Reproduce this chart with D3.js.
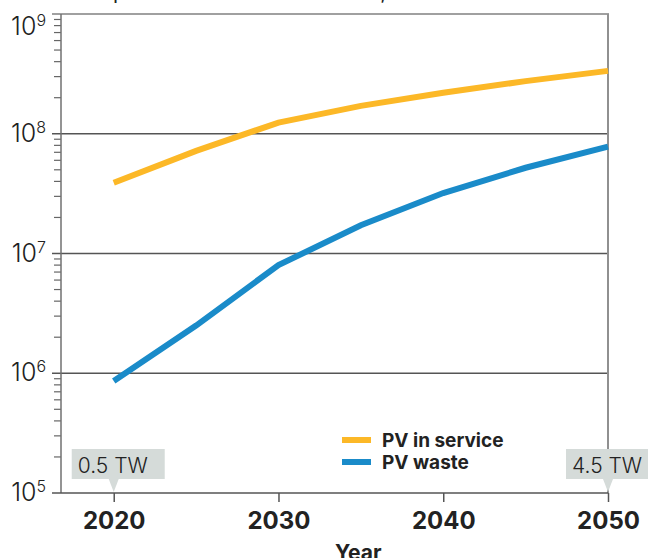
<!DOCTYPE html>
<html lang="en">
<head>
<meta charset="UTF-8">
<title>PV in service and PV waste</title>
<script src="https://cdn.jsdelivr.net/npm/d3@7"></script>
<style>
  body { margin: 0; background: #fff; }
  svg { display: block; }
</style>
</head>
<body>
<script>
    var width = 648;
    var height = 558;

    // data
    var years = [2020, 2025, 2030, 2035, 2040, 2045, 2050];
    var pvService = [3.9e7, 7.2e7, 1.24e8, 1.71e8, 2.2e8, 2.75e8, 3.35e8];
    var pvWaste = [8.6e5, 2.5e6, 8.0e6, 1.72e7, 3.2e7, 5.2e7, 7.8e7];
    var xTicks = [2020, 2030, 2040, 2050];
    var yExponents = [5, 6, 7, 8, 9];
    var seriesNames = ["PV in service", "PV waste"];
    var calloutYears = [2020, 2050];
    var calloutLabels = ["0.5 TW", "4.5 TW"];

    var colors = ["#fcb827", "#1a8bc9"];
    var font = "Inter, Roboto, sans-serif";

    var svg = d3.select("body").append("svg")
        .attr("width", width)
        .attr("height", height);

    var x = d3.scaleLinear().domain([2016.8, 2050]).range([61, 608]);
    var y = d3.scaleLog().domain([1e5, 1e9]).range([493, 14]);

    // title, cut off at the very top in the original
    var title = svg.append("text")
        .attr("y", -1)
        .attr("font-family", font)
        .attr("font-size", 21)
        .attr("fill", "#222");
    title.text("Mass of ");
    var pre = title.node().getComputedTextLength();
    title.text("Mass of panels in use and as waste, tonnes")
        .attr("x", 107 - pre);

    // minor ticks on the left
    var minor = [];
    yExponents.slice(0, -1).forEach(function (e) {
        for (var k = 2; k < 10; k++) minor.push(k * Math.pow(10, e));
    });
    svg.append("g").selectAll("line").data(minor).enter().append("line")
        .attr("x1", 54).attr("x2", 61)
        .attr("y1", function (d) { return y(d); })
        .attr("y2", function (d) { return y(d); })
        .attr("stroke", "#666").attr("stroke-width", 1.2);

    // horizontal grid lines at each decade
    svg.append("g").selectAll("line").data(yExponents.slice(1, -1)).enter().append("line")
        .attr("x1", 52).attr("x2", 608)
        .attr("y1", function (d) { return y(Math.pow(10, d)); })
        .attr("y2", function (d) { return y(Math.pow(10, d)); })
        .attr("stroke", "#555").attr("stroke-width", 1.5);

    // frame: top, right, left
    svg.append("line").attr("x1", 52).attr("x2", 609).attr("y1", y(1e9)).attr("y2", y(1e9))
        .attr("stroke", "#808080").attr("stroke-width", 1.5);
    svg.append("line").attr("x1", 608).attr("x2", 608).attr("y1", y(1e9)).attr("y2", y(1e5))
        .attr("stroke", "#909090").attr("stroke-width", 2);
    svg.append("line").attr("x1", 61).attr("x2", 61).attr("y1", y(1e9)).attr("y2", y(1e5))
        .attr("stroke", "#707070").attr("stroke-width", 1.5);

    // bottom axis
    var xAxis = d3.axisBottom(x).tickValues(xTicks).tickFormat(d3.format("d"))
        .tickSize(9).tickPadding(10);
    var gx = svg.append("g")
        .attr("transform", "translate(0," + y(1e5) + ")")
        .call(xAxis);
    gx.select(".domain").remove();
    gx.append("line").attr("x1", 52).attr("x2", 608).attr("y1", 0).attr("y2", 0)
        .attr("stroke", "#555").attr("stroke-width", 1.5);
    gx.selectAll(".tick line").attr("stroke", "#555").attr("stroke-width", 1.5);
    gx.selectAll(".tick text")
        .attr("font-family", font)
        .attr("font-size", 24).attr("font-weight", 700)
        .attr("fill", "#222");

    svg.append("text")
        .attr("x", 335).attr("y", 560)
        .attr("font-family", font)
        .attr("font-size", 21).attr("font-weight", 700)
        .attr("fill", "#222")
        .text("Year");

    // y labels 10^n
    var ylab = svg.append("g").selectAll("text").data(yExponents).enter().append("text")
        .attr("x", 46)
        .attr("y", function (d) { return y(Math.pow(10, d)) + (d === 9 ? 21 : 8); })
        .attr("text-anchor", "end")
        .attr("font-family", font)
        .attr("font-weight", 300)
        .attr("font-size", 25)
        .attr("fill", "#222");
    ylab.append("tspan").text("10");
    ylab.append("tspan").attr("dy", -9).attr("font-size", 16)
        .text(function (d) { return d; });

    // lines
    var line = d3.line()
        .x(function (d, i) { return x(years[i]); })
        .y(function (d) { return y(d); });

    [pvService, pvWaste].forEach(function (s, i) {
        svg.append("path")
            .attr("d", line(s))
            .attr("fill", "none")
            .attr("stroke", colors[i])
            .attr("stroke-width", 6);
    });

    // legend
    var leg = svg.append("g").selectAll("g").data(seriesNames).enter().append("g")
        .attr("transform", function (d, i) { return "translate(342," + (440 + i * 22) + ")"; });
    leg.append("line").attr("x1", 0).attr("x2", 29)
        .attr("stroke", function (d, i) { return colors[i]; })
        .attr("stroke-width", 6);
    leg.append("text")
        .attr("x", 40).attr("y", 7)
        .attr("font-family", font)
        .attr("font-size", 19).attr("font-weight", 700)
        .attr("fill", "#222")
        .text(function (d) { return d; });

    // capacity callouts
    var call = svg.append("g").selectAll("g").data(calloutYears).enter().append("g")
        .attr("transform", function (d) { return "translate(" + x(d) + ",0)"; });
    call.append("rect")
        .attr("x", -42).attr("y", 449)
        .attr("width", 93).attr("height", 30)
        .attr("fill", "#d5dbd9");
    call.append("path")
        .attr("d", "M-5,479L5,479L0,492Z")
        .attr("fill", "#d5dbd9");
    call.append("text")
        .attr("x", -36).attr("y", 473)
        .attr("font-family", font)
        .attr("font-size", 21).attr("font-weight", 300)
        .attr("fill", "#222")
        .text(function (d, i) { return calloutLabels[i]; });
</script>
</body>
</html>
